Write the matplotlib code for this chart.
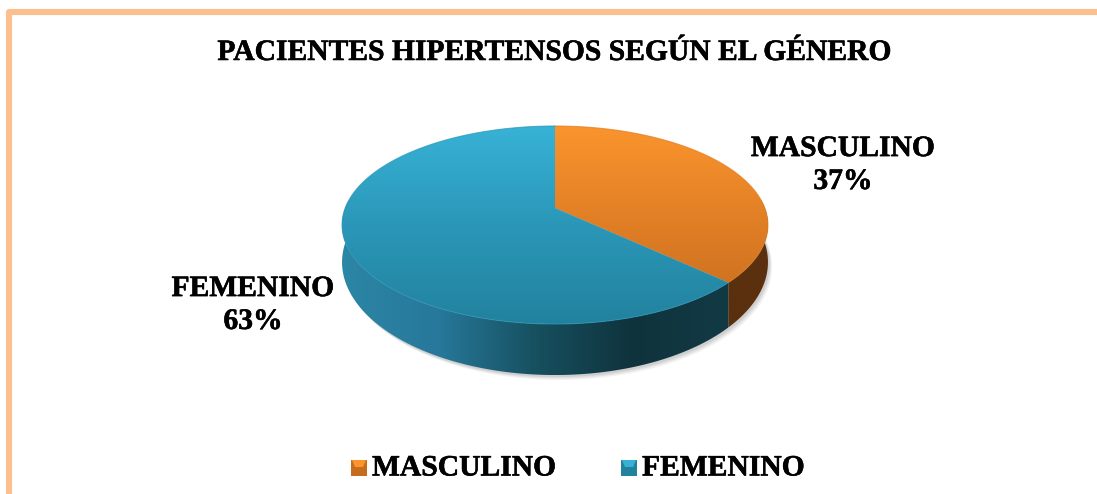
import numpy as np
import matplotlib
matplotlib.use('Agg')
import matplotlib.pyplot as plt
import matplotlib.patheffects as pe
from matplotlib.colors import LinearSegmentedColormap
from matplotlib.patches import Polygon, Rectangle

categories = ['MASCULINO', 'FEMENINO']
values = [37, 63]
title = 'PACIENTES HIPERTENSOS SEGÚN EL GÉNERO'

plt.rcParams['font.family'] = ['Liberation Serif', 'DejaVu Serif']

# pie geometry, in pixels of the picture
cx, cy = 555, 208
A, B, k = 209.8, 96.1, 0.1717
depth = 35


def rim(t):
    # t = degrees clockwise from the top, with a bit of perspective
    t = np.radians(t)
    x, y = np.sin(t), np.cos(t)
    w = 1 + k * y
    return np.column_stack([cx + A * x / w, cy - B * y / w])


def lower_rim(t):
    # the wall looks taller the closer it is
    w = 1 + k * np.cos(np.radians(t))
    pts = rim(t)
    pts[:, 1] += depth / w ** 2
    return pts


def fill_grad(ax, pts, colors, extent, horizontal=False, z=2):
    cmap = LinearSegmentedColormap.from_list('g', colors)
    ramp = np.linspace(0, 1, 256)
    ramp = ramp[None, :] if horizontal else ramp[:, None]
    poly = Polygon(pts, closed=True, fc='none', ec='none', zorder=z)
    ax.add_patch(poly)
    im = ax.imshow(ramp, extent=extent, cmap=cmap, aspect='auto',
                   zorder=z, interpolation='bilinear')
    im.set_clip_path(poly)


fig = plt.figure(figsize=(10.97, 4.94), dpi=100)
ax = fig.add_axes([0, 0, 1, 1])

# frame
ax.plot([9, 9, 1097], [494, 12, 12], color='#FBC08E', lw=4.4,
        solid_joinstyle='round', zorder=1)

top_cols = [['#FA942D', '#E07E25', '#C56C1E'], ['#37B2D6', '#2B97B8', '#22829E']]
side_cols = [['#5A300E', '#5A300E'], ['#2C86A6', '#27789A', '#17505F', '#0F333D', '#123A45']]

# soft shadow under the pie
tt = np.linspace(0, 360, 361)
for off, a in zip([7, 5, 3], [0.10, 0.14, 0.18]):
    ax.add_patch(Polygon(lower_rim(tt) + [off * 0.6, off * 0.7], closed=True, fc='#808080',
                         ec='none', alpha=a, zorder=1.5))

# walls first, then the top faces
edges = np.cumsum([0] + values) / sum(values) * 360
for i in range(len(values)):
    tt = np.linspace(edges[i], edges[i + 1], 200)
    tt = tt[(tt > 85) & (tt < 275)]
    wall = np.vstack([rim(tt), lower_rim(tt)[::-1]])
    ext = (wall[:, 0].min(), wall[:, 0].max(), wall[:, 1].max(), wall[:, 1].min())
    fill_grad(ax, wall, side_cols[i], ext, horizontal=True, z=2)

for i in range(len(values)):
    arc = rim(np.linspace(edges[i], edges[i + 1], 200))
    face = np.vstack([[cx, cy], arc])
    # gradient runs over the whole pie height
    fill_grad(ax, face, top_cols[i], (342, 768, 324, 126), z=3)
    ax.plot(arc[:, 0], arc[:, 1], color=top_cols[i][1], lw=0.8, alpha=0.7, zorder=3.1)

heavy = [pe.withStroke(linewidth=0.4, foreground='black')]
ax.text(555, 52.5, title, ha='center', va='center', fontsize=21.3, fontweight='bold',
        color='black', path_effects=heavy)

# data labels
ax.text(843, 165, f'{categories[0]}\n{values[0]}%', ha='center', va='center', fontsize=21.3,
        fontweight='bold', linespacing=1.28, path_effects=heavy)
ax.text(253, 305, f'{categories[1]}\n{values[1]}%', ha='center', va='center', fontsize=21.3,
        fontweight='bold', linespacing=1.28, path_effects=heavy)

# legend
for x0, name, cols, tx in zip([351, 621], categories, top_cols, [372, 642]):
    ax.add_patch(Rectangle((x0, 460), 16, 16, fc=cols[2], ec='none', zorder=3))
    ax.add_patch(Polygon([[x0 + 1, 460], [x0 + 15, 460], [x0 + 12, 467], [x0 + 4, 467]],
                         closed=True, fc=cols[0], ec='none', zorder=4))
    ax.text(tx, 468, name, ha='left', va='center', fontsize=21.3, fontweight='bold',
            path_effects=heavy)

ax.set_xlim(0, 1097)
ax.set_ylim(494, 0)
ax.axis('off')
fig.savefig('out.png', dpi=100, facecolor='white')
